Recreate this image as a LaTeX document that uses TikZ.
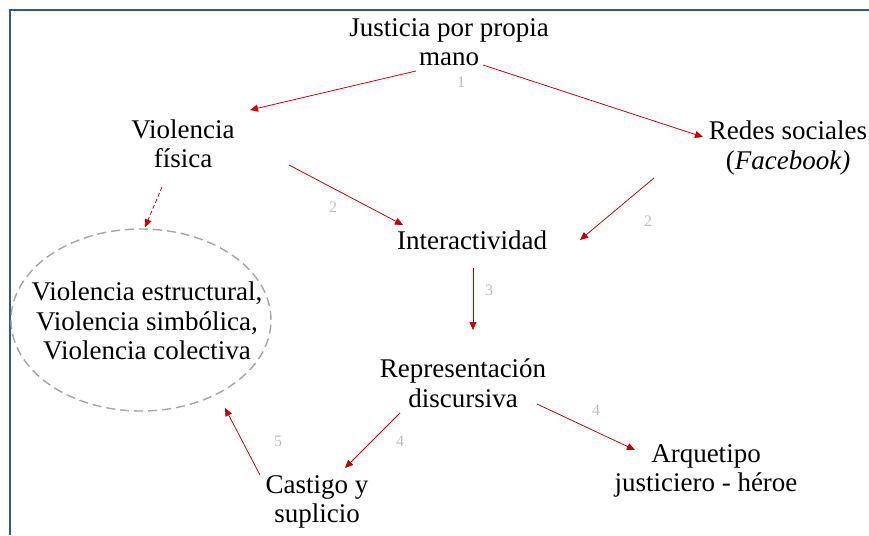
\documentclass[tikz,border=0pt]{standalone}
\usepackage{fontspec}
\setmainfont{Liberation Serif}
\usetikzlibrary{arrows.meta,shapes.geometric}
\definecolor{framecol}{RGB}{44,90,138}
\definecolor{arrcol}{RGB}{192,0,0}
\definecolor{numcol}{RGB}{190,190,190}
\definecolor{ellcol}{RGB}{166,166,166}
\tikzset{
  txt/.style={align=center, inner sep=0pt, font=\fontsize{27}{29.5}\selectfont},
  num/.style={inner sep=0pt, text=numcol, font=\fontsize{16}{18}\selectfont},
  arr/.style={draw=arrcol, line width=0.75pt, -{Triangle[length=8pt,width=7pt]}},
  darr/.style={arr, dash pattern=on 4pt off 2.5pt},
  framestyle/.style={draw=framecol, line width=2pt},
  ellstyle/.style={ellipse, draw=ellcol, line width=1.4pt, dash pattern=on 9pt off 5pt,
    minimum width=260pt, minimum height=182pt, inner sep=0pt}
}
\begin{document}
\begin{tikzpicture}[x=1pt,y=-1pt]
\useasboundingbox (0,0) rectangle (869,535);
\coordinate (fr1) at (869,10);
\coordinate (fr2) at (10,10);
\coordinate (fr3) at (10,535);
\draw[framestyle] (fr1) -- (fr2) -- (fr3);

\node[txt] (jus) at (449,42) {Justicia por propia\\mano};
\node[txt] (vf) at (183,144) {Violencia\\física};
\node[txt] (red) at (788,148) {Redes sociales\\(\textit{Facebook)}};
\node[txt] (inter) at (472,240) {Interactividad};
\node[ellstyle] (ell) at (141,320) {};
\node[txt] (ellt) at (147,321) {Violencia estructural,\\Violencia simbólica,\\Violencia colectiva};
\node[txt] (rep) at (463,383) {Representación\\discursiva};
\node[txt] (cas) at (317,502) {Castigo y\\suplicio};
\node[txt] (arq) at (706,471) {Arquetipo\\justiciero - héroe};

\node[num] (n1) at (461,82) {1};
\node[num] (n2a) at (333,207) {2};
\node[num] (n2b) at (648,221) {2};
\node[num] (n3) at (489,290) {3};
\node[num] (n4a) at (596,410) {4};
\node[num] (n4b) at (400,441) {4};
\node[num] (n5) at (278,441) {5};

\draw[arr] ([shift={(-33,29)}]jus.center) -- ([shift={(67,-34)}]vf.center);
\draw[arr] ([shift={(34,23)}]jus.center) -- ([shift={(-85,-11)}]red.center);
\draw[arr] ([shift={(106,21)}]vf.center) -- ([shift={(-69,-15)}]inter.center);
\draw[arr] ([shift={(-134,30)}]red.center) -- ([shift={(108,0)}]inter.center);
\draw[arr] ([shift={(1,28)}]inter.center) -- ([shift={(10,-53)}]rep.center);
\draw[darr] ([shift={(-21,43)}]vf.center) -- ([shift={(4,-1)}]ell.north);
\draw[arr] ([shift={(-63,30)}]rep.center) -- ([shift={(28,-34)}]cas.center);
\draw[arr] ([shift={(74,21)}]rep.center) -- ([shift={(-71,-21)}]arq.center);
\draw[arr] ([shift={(-57,-27)}]cas.center) -- ([shift={(84,88)}]ell.center);
\end{tikzpicture}
\end{document}
